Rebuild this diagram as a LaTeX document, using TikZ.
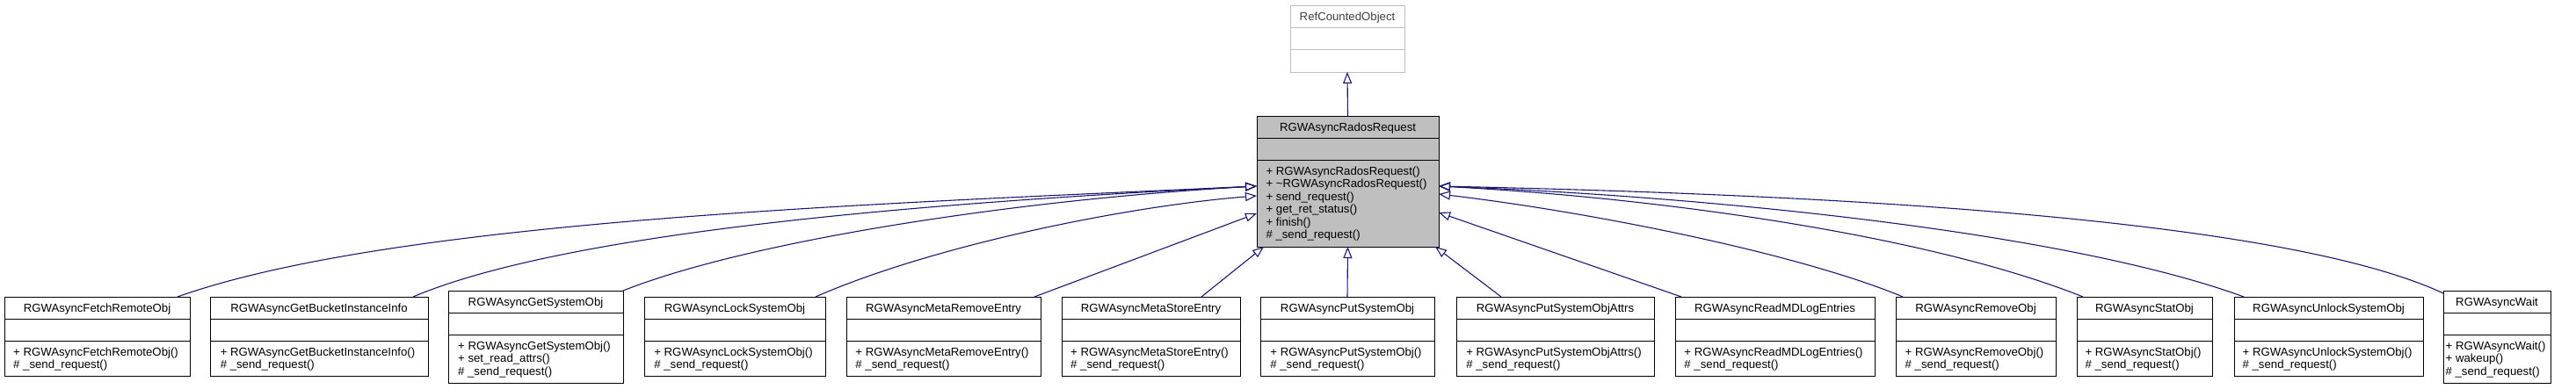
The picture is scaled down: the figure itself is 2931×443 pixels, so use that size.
\documentclass[tikz,border=0pt]{standalone}
\usepackage{fontspec}
\newfontfamily\dxfont{Liberation Sans}
\usetikzlibrary{arrows.meta,calc}
\definecolor{edgeblue}{RGB}{25,25,112}
\definecolor{boxgray}{RGB}{191,191,191}
\definecolor{textgray}{RGB}{64,64,64}
\tikzset{
  classbox/.style={rectangle, line width=0.95pt, inner sep=0pt, outer sep=0pt, anchor=north west},
  divline/.style={line width=0.95pt},
  umltext/.style={font=\dxfont\fontsize{13.2}{14.5}\selectfont, inner sep=0pt},
  plain box/.style={draw=black, fill=white},
  plain line/.style={draw=black},
  plain text/.style={text=black},
  main box/.style={draw=black, fill=boxgray},
  main line/.style={draw=black},
  main text/.style={text=black},
  base box/.style={draw=boxgray, fill=white},
  base line/.style={draw=boxgray},
  base text/.style={text=textgray},
  inherit/.style={draw=edgeblue, line width=1.1pt, -{Triangle[open, length=13pt, width=10pt]}},
}
% #1 name, #2 x1, #3 y1, #4 x2, #5 methods height, #6 variant, #7 title, #8 methods
\newcommand\umlclass[8]{%
  \node[classbox, #6 box, minimum width={#4pt-#2pt}, minimum height={50pt+#5pt}] (#1) at (#2,#3) {};
  \draw[divline, #6 line] ($(#1.north west)+(0,25)$) -- ($(#1.north east)+(0,25)$);
  \draw[divline, #6 line] ($(#1.north west)+(0,50)$) -- ($(#1.north east)+(0,50)$);
  \node[umltext, #6 text, anchor=base] (#1-title) at ($(#1.north)+(0,18)$) {#7};
  \node[umltext, #6 text, anchor=north] (#1-ops) at ($(#1.north)+(-1.5,56.85)$) {\begin{tabular}{@{}l@{}}#8\end{tabular}};
}
\begin{document}
\begin{tikzpicture}[x=1pt,y=-1pt]
\useasboundingbox (0,0) rectangle (2931,443);
% base class
\node[classbox, base box, minimum width=130pt, minimum height=76pt] (base) at (1468,6) {};
\draw[divline, base line] ($(base.north west)+(0,25)$) -- ($(base.north east)+(0,25)$);
\draw[divline, base line] ($(base.north west)+(0,50)$) -- ($(base.north east)+(0,50)$);
\node[umltext, base text, anchor=base] (base-title) at ($(base.north)+(0,18)$) {RefCountedObject};
% main class
\umlclass{main}{1430}{132}{1637}{99}{main}{RGWAsyncRadosRequest}{+ RGWAsyncRadosRequest()\\+ \textasciitilde RGWAsyncRadosRequest()\\+ send\_request()\\+ get\_ret\_status()\\+ finish()\\\# \_send\_request()}
% children
\umlclass{c1}{5}{338}{216}{40}{plain}{RGWAsyncFetchRemoteObj}{+ RGWAsyncFetchRemoteObj()\\\# \_send\_request()}
\umlclass{c2}{239}{338}{487}{40}{plain}{RGWAsyncGetBucketInstanceInfo}{+ RGWAsyncGetBucketInstanceInfo()\\\# \_send\_request()}
\umlclass{c3}{510}{331}{709}{55}{plain}{RGWAsyncGetSystemObj}{+ RGWAsyncGetSystemObj()\\+ set\_read\_attrs()\\\# \_send\_request()}
\umlclass{c4}{733}{338}{939}{40}{plain}{RGWAsyncLockSystemObj}{+ RGWAsyncLockSystemObj()\\\# \_send\_request()}
\umlclass{c5}{963}{338}{1184}{40}{plain}{RGWAsyncMetaRemoveEntry}{+ RGWAsyncMetaRemoveEntry()\\\# \_send\_request()}
\umlclass{c6}{1208}{338}{1411}{40}{plain}{RGWAsyncMetaStoreEntry}{+ RGWAsyncMetaStoreEntry()\\\# \_send\_request()}
\umlclass{c7}{1434}{338}{1632}{40}{plain}{RGWAsyncPutSystemObj}{+ RGWAsyncPutSystemObj()\\\# \_send\_request()}
\umlclass{c8}{1657}{338}{1882}{40}{plain}{RGWAsyncPutSystemObjAttrs}{+ RGWAsyncPutSystemObjAttrs()\\\# \_send\_request()}
\umlclass{c9}{1906}{338}{2133}{40}{plain}{RGWAsyncReadMDLogEntries}{+ RGWAsyncReadMDLogEntries()\\\# \_send\_request()}
\umlclass{c10}{2157}{338}{2339}{40}{plain}{RGWAsyncRemoveObj}{+ RGWAsyncRemoveObj()\\\# \_send\_request()}
\umlclass{c11}{2363}{338}{2517}{40}{plain}{RGWAsyncStatObj}{+ RGWAsyncStatObj()\\\# \_send\_request()}
\umlclass{c12}{2542}{338}{2757}{40}{plain}{RGWAsyncUnlockSystemObj}{+ RGWAsyncUnlockSystemObj()\\\# \_send\_request()}
\umlclass{c13}{2780}{331}{2902}{55}{plain}{RGWAsyncWait}{+ RGWAsyncWait()\\+ wakeup()\\\# \_send\_request()}
% inheritance edges
\draw[inherit] (main.north) -- (base.south);
\draw[inherit] ($(c1.north west)+(197,0)$) .. controls +(248,-88) and +(-430,20) .. ($(main.north west)+(0,80)$);
\draw[inherit] ($(c2.north west)+(231,0)$) .. controls +(180,-76) and +(-360,18) .. ($(main.north west)+(0,80)$);
\draw[inherit] (c3.north east) .. controls +(141,-56) and +(-280,16) .. ($(main.north west)+(0,80)$);
\draw[inherit] ($(c4.north west)+(195,0)$) .. controls +(132,-58) and +(-150,12) .. ($(main.north west)+(0,91)$);
\draw[inherit] ($(c5.north west)+(214,0)$) -- ($(main.north west)+(0,111)$);
\draw[inherit] ($(c6.north west)+(159,0)$) -- ($(main.south west)+(8,0)$);
\draw[inherit] (c7.north) -- (main.south);
\draw[inherit] ($(c8.north west)+(51,0)$) -- ($(main.south east)+(-4,0)$);
\draw[inherit] ($(c9.north west)+(7,0)$) -- ($(main.north east)+(0,110)$);
\draw[inherit] ($(c10.north west)+(8,0)$) .. controls +(-120,-50) and +(170,20) .. ($(main.north east)+(0,89)$);
\draw[inherit] ($(c11.north west)+(7,0)$) .. controls +(-170,-68) and +(263,14) .. ($(main.north east)+(0,80)$);
\draw[inherit] ($(c12.north west)+(11,0)$) .. controls +(-200,-73) and +(313,12) .. ($(main.north east)+(0,80)$);
\draw[inherit] ($(c13.north west)+(0,3)$) .. controls +(-180,-84) and +(463,10) .. ($(main.north east)+(0,80)$);
\end{tikzpicture}
\end{document}
